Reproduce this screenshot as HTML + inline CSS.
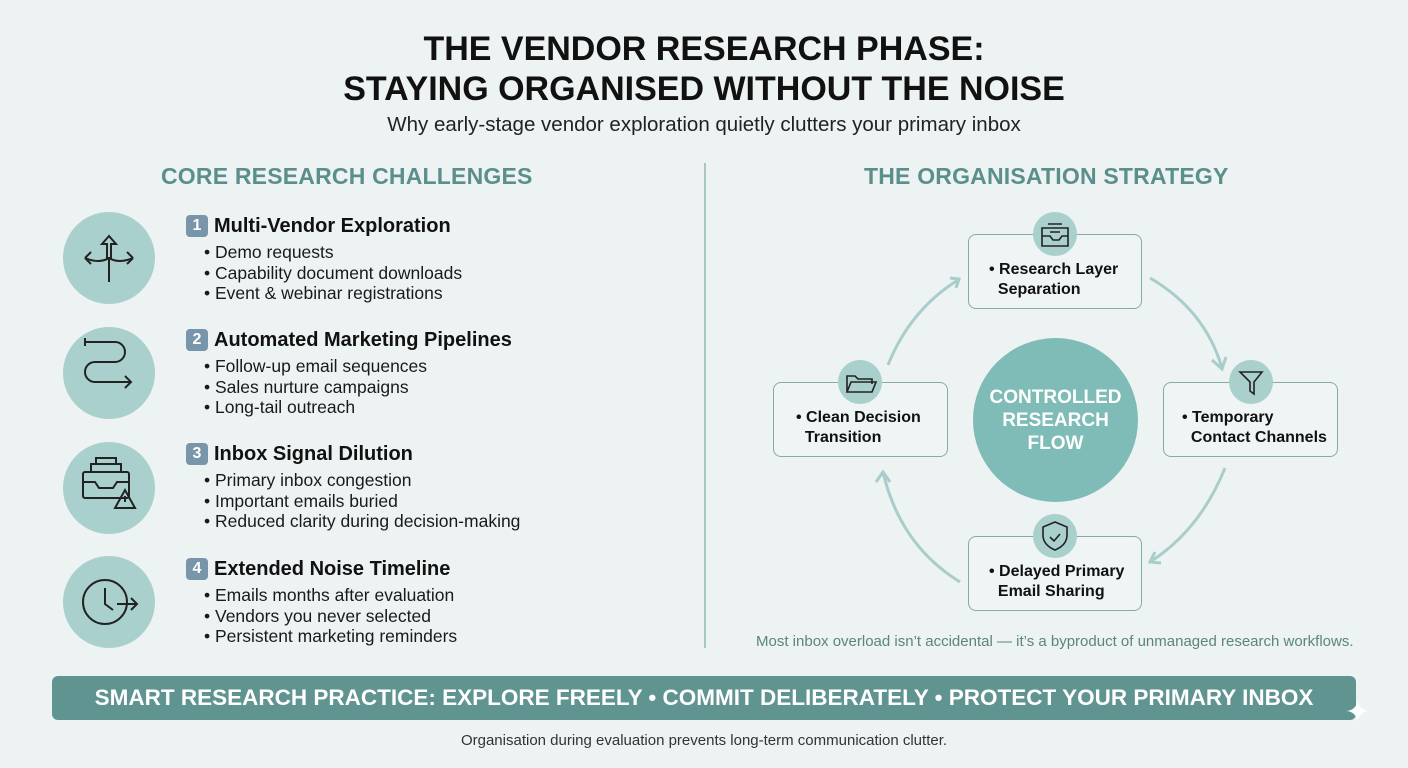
<!DOCTYPE html>
<html><head><style>
body{margin:0;width:1408px;height:768px;background:#edf2f2;font-family:"Liberation Sans",sans-serif;position:relative;overflow:hidden;color:#111}
.a{position:absolute}
h1{position:absolute;margin:0;top:29px;left:0;width:1408px;text-align:center;font-size:34px;line-height:40px;font-weight:bold;color:#111;letter-spacing:0}
.sub{top:113px;left:0;width:1408px;text-align:center;font-size:20.5px;color:#222}
.sec{font-size:23px;font-weight:bold;color:#5b8f8c;top:163px;letter-spacing:0.2px}
.circ{width:92px;height:92px;border-radius:50%;background:#a9d0cc;left:63px}
.badge{left:186px;width:22px;height:22px;border-radius:4px;background:#7895aa;color:#fff;font-size:16px;font-weight:bold;text-align:center;line-height:22px}
.hd{left:214px;font-size:20px;font-weight:bold}
.bl{left:204px;font-size:17.5px;line-height:20.5px;color:#1a1a1a}
.box{border:1.5px solid #86aaa8;border-radius:8px;width:174px;height:75px;background:#eff4f4;box-sizing:border-box;font-size:16px;font-weight:bold;line-height:20px;padding:25px 0 0 16px;color:#111}
.ic{width:44px;height:44px;border-radius:50%;background:#a9d0cc}
</style></head><body>
<h1>THE VENDOR RESEARCH PHASE:<br>STAYING ORGANISED WITHOUT THE NOISE</h1>
<div class="a sub">Why early-stage vendor exploration quietly clutters your primary inbox</div>
<div class="a sec" style="left:161px">CORE RESEARCH CHALLENGES</div>
<div class="a sec" style="left:864px">THE ORGANISATION STRATEGY</div>
<div class="a" style="left:704px;top:163px;width:2px;height:485px;background:#a9c7c5"></div>

<div class="a circ" style="top:212px"></div>
<div class="a circ" style="top:327px"></div>
<div class="a circ" style="top:442px"></div>
<div class="a circ" style="top:556px"></div>
<svg class="a" style="left:63px;top:212px" width="92" height="440" fill="none" stroke="#222" stroke-width="2">
<path d="M46 70 V46 M46 24 l-7 8 h5 v14 h4 v-14 h5z M46 46 q-10 6 -24 0 M22 46 l6 -6 M22 46 l6 6 M46 46 q10 6 24 0 M70 46 l-6 -6 M70 46 l-6 6"/>
<path d="M22 130 h30 a10 10 0 0 1 0 20 h-20 a10 10 0 0 0 0 20 h36 m-6 -6 l6 6 l-6 6 M22 126 v8"/>
<rect x="20" y="260" width="46" height="26" rx="2"/><path d="M20 270 h12 l4 6 h14 l4 -6 h12 M28 260 v-8 h30 v8 M33 252 v-6 h20 v6"/><path d="M62 278 l10 18 h-20z M62 284 v6"/>
<circle cx="42" cy="390" r="22"/><path d="M42 376 v16 l8 6 M54 392 h20 m-6 -6 l6 6 l-6 6"/>
</svg>

<div class="a badge" style="top:215px">1</div><div class="a hd" style="top:215px">Multi-Vendor Exploration</div>
<div class="a bl" style="top:242px">• Demo requests<br>• Capability document downloads<br>• Event &amp; webinar registrations</div>
<div class="a badge" style="top:329px">2</div><div class="a hd" style="top:329px">Automated Marketing Pipelines</div>
<div class="a bl" style="top:356px">• Follow-up email sequences<br>• Sales nurture campaigns<br>• Long-tail outreach</div>
<div class="a badge" style="top:443px">3</div><div class="a hd" style="top:443px">Inbox Signal Dilution</div>
<div class="a bl" style="top:470px">• Primary inbox congestion<br>• Important emails buried<br>• Reduced clarity during decision-making</div>
<div class="a badge" style="top:558px">4</div><div class="a hd" style="top:558px">Extended Noise Timeline</div>
<div class="a bl" style="top:585px">• Emails months after evaluation<br>• Vendors you never selected<br>• Persistent marketing reminders</div>

<svg class="a" style="left:0;top:0" width="1408" height="768" fill="none" stroke="#a9cdca" stroke-width="3">
<path d="M888 365 Q910 310 958 280 M950 278 l9 1 l-3 9"/>
<path d="M1150 278 Q1205 310 1222 368 M1212 360 l10 9 l4 -12"/>
<path d="M1225 468 Q1200 530 1150 562 M1155 552 l-5 10 l11 1"/>
<path d="M960 582 Q900 545 883 472 M876 482 l7 -10 l7 10"/>
</svg>
<div class="a" style="left:973px;top:338px;width:165px;height:164px;border-radius:50%;background:#7fbcb7;color:#fff;font-weight:bold;font-size:19px;line-height:23px;text-align:center;box-sizing:border-box;padding-top:48px">CONTROLLED<br>RESEARCH<br>FLOW</div>
<div class="a box" style="left:968px;top:234px;padding-left:20px">• Research Layer<br>&nbsp;&nbsp;Separation</div>
<div class="a box" style="left:773px;top:382px;width:175px;padding-left:22px">• Clean Decision<br>&nbsp;&nbsp;Transition</div>
<div class="a box" style="left:1163px;top:382px;width:175px;padding-left:18px">• Temporary<br>&nbsp;&nbsp;Contact Channels</div>
<div class="a box" style="left:968px;top:536px;padding-left:20px">• Delayed Primary<br>&nbsp;&nbsp;Email Sharing</div>
<div class="a ic" style="left:1033px;top:212px"></div>
<div class="a ic" style="left:838px;top:360px"></div>
<div class="a ic" style="left:1229px;top:360px"></div>
<div class="a ic" style="left:1033px;top:514px"></div>
<svg class="a" style="left:0;top:0" width="1408" height="768" fill="none" stroke="#222" stroke-width="1.6">
<path d="M1042 228 h26 v18 h-26z M1042 236 h8 l3 4 h6 l3 -4 h6 M1048 224 h14 M1050 232 h10"/>
<path d="M847 392 v-16 h8 l3 3 h14 v5 M847 392 l4 -10 h25 l-4 10z"/>
<path d="M1240 372 h22 l-8 10 v12 l-4 -3 v-9z"/>
<path d="M1055 522 l12 5 v8 q0 10 -12 15 q-12 -5 -12 -15 v-8z M1050 537 l4 4 l6 -7"/>
</svg>
<div class="a" style="left:756px;top:633px;font-size:15px;color:#5b8580">Most inbox overload isn’t accidental — it’s a byproduct of unmanaged research workflows.</div>
<div class="a" style="left:52px;top:676px;width:1304px;height:44px;background:#5f9491;border-radius:6px;color:#fff;font-weight:bold;font-size:22.5px;line-height:44px;text-align:center">SMART RESEARCH PRACTICE: EXPLORE FREELY • COMMIT DELIBERATELY • PROTECT YOUR PRIMARY INBOX</div>
<div class="a" style="left:0;top:732px;width:1408px;text-align:center;font-size:15px;color:#333">Organisation during evaluation prevents long-term communication clutter.</div>
<div class="a" style="left:1345px;top:698px;font-size:30px;color:#fff;line-height:30px">✦</div>
</body></html>
